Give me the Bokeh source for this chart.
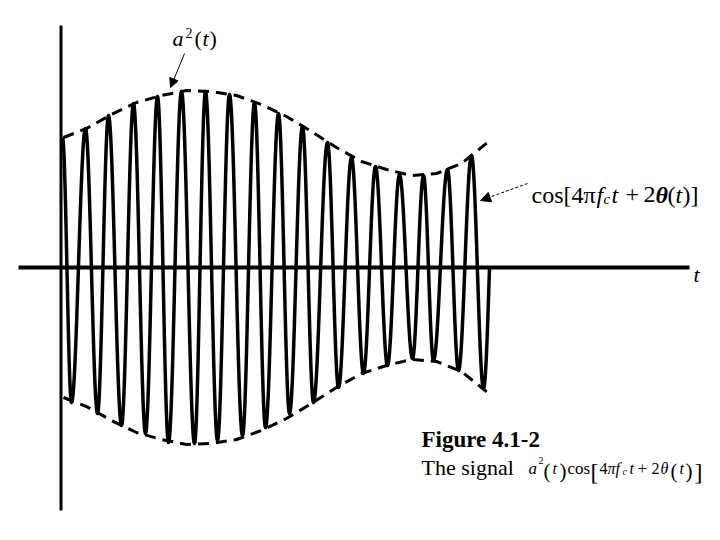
import numpy as np
from bokeh.plotting import figure
from bokeh.models import Range1d, Label, Arrow, NormalHead
from bokeh.embed import file_html
from bokeh.resources import INLINE

# ---------------- data (t and amplitude in drawing units) -------------
# carrier extrema of a^2(t) cos[4*pi*fc*t + 2*theta(t)]
peak_t = [1.5, 24.5, 47.5, 72.5, 96.5, 120.5, 144.5, 168.5, 193.5, 217.5, 241.5, 266.5,
          290.5, 314.5, 338.5, 362.5, 386.5, 410.5]
peak_a = [130, 139, 152, 164, 171, 176, 176, 173, 165, 154, 141, 125, 110, 101, 93, 92, 98, 112]
trough_t = [10.5, 36.5, 60.5, 84.5, 107.5, 133.5, 156.5, 181.5, 204.5, 228.5, 252.5, 277.5,
            302.5, 326.5, 351.5, 372.5, 397.5, 422.5]
trough_a = [-135, -146, -158, -166, -175, -176, -173, -168, -160, -146, -135, -120, -106, -98,
            -91, -93, -103, -121]
end_t, end_a = 428.5, 0

# envelope a^2(t) (dashed)
env_t = [2.5, 25.5, 50.5, 75.5, 100.5, 125.5, 150.5, 175.5, 200.5, 225.5, 250.5, 275.5,
         300.5, 325.5, 350.5, 375.5, 400.5, 426.5]
env_a = [130, 139, 153, 165, 172, 177, 176, 172, 163, 151, 136, 120, 106, 98, 92, 94, 104, 125]

# axes extents
t_axis = [-42.5, 628.5]
a_axis = [-243, 242]

# ---------------- build carrier curve through the read extrema ----------------
ext_t, ext_a = [], []
for i in range(len(peak_t)):
    ext_t += [peak_t[i], trough_t[i]]
    ext_a += [peak_a[i], trough_a[i]]
ext_t.append(end_t)
ext_a.append(end_a)

wave_t, wave_a = [], []
u = np.linspace(0, 1, 25)
for i in range(len(ext_t) - 1):
    t0, t1 = ext_t[i], ext_t[i + 1]
    v0, v1 = ext_a[i], ext_a[i + 1]
    if i == len(ext_t) - 2:
        seg = v0 * np.cos(np.pi / 2 * u)
    else:
        seg = (v0 + v1) / 2 + (v0 - v1) / 2 * np.cos(np.pi * u)
    wave_t += list(t0 + (t1 - t0) * u)
    wave_a += list(seg)

# ---------------- figure ----------------
W, H = 712, 532
X0 = -60.5
Y1 = 267
p = figure(width=W, height=H, output_backend="svg", toolbar_location=None,
           x_range=Range1d(X0, X0 + W), y_range=Range1d(Y1 - H, Y1),
           x_axis_type=None, y_axis_type=None, min_border=0)
p.min_border_left = p.min_border_right = p.min_border_top = p.min_border_bottom = 0
p.grid.visible = False
p.outline_line_color = None
p.background_fill_color = "white"

# axes
p.line(x=[0, 0], y=a_axis, line_color="black", line_width=3)
p.line(x=t_axis, y=[0, 0], line_color="black", line_width=4)

# envelope (dashed, top and bottom)
p.line(x=env_t, y=env_a, line_color="black", line_width=3, line_dash="11 7")
p.line(x=env_t, y=[-v for v in env_a], line_color="black", line_width=3, line_dash="11 7")

# carrier
p.line(x=wave_t, y=wave_a, line_color="black", line_width=3.5, line_join="round")

FONT = "Liberation Serif"


def px(X, Y):
    return X - 60.5, 267 - Y


def lab(X, Y, text, size, style="normal"):
    x, y = px(X, Y)
    p.add_layout(Label(x=x, y=y, text=text, text_font=FONT, text_font_size=f"{size}px",
                       text_font_style=style, text_baseline="alphabetic", text_align="left",
                       text_color="black"))


# a^2(t) label
lab(172, 38, "a", 22, "italic")
lab(185, 32, "2", 14)
lab(194, 38, "(", 22)
lab(202, 38, "t", 22, "italic")
lab(209, 38, ")", 22)

x0, y0 = px(184, 53)
x1, y1 = px(170, 87)
p.add_layout(Arrow(end=NormalHead(size=9, fill_color="black", line_color="black"),
                   x_start=x0, y_start=y0, x_end=x1, y_end=y1, line_width=1, line_color="black"))

# cos[...] label
lab(531, 194, "cos[4π", 24)
lab(596, 194, "f", 24, "italic")
lab(603, 198, "c", 15, "italic")
lab(611, 194, "t", 24, "italic")
lab(625, 194, "+", 24)
lab(643, 194, "2", 24)
lab(655, 194, "θ", 24, "bold italic")
lab(667, 194, "(", 24)
lab(675, 194, "t", 24, "italic")
lab(682, 194, ")]", 24)

x0, y0 = px(527, 183)
x1, y1 = px(480, 200)
p.add_layout(Arrow(end=NormalHead(size=10, fill_color="black", line_color="black"),
                   x_start=x0, y_start=y0, x_end=x1, y_end=y1, line_width=1,
                   line_color="black", line_dash="3 2"))

# t axis label
lab(693, 274, "t", 22, "italic")

# caption
lab(421, 439, "Figure 4.1-2", 23, "bold")
lab(421, 467, "The signal", 22)
lab(528, 468, "a", 17, "italic")
lab(538, 460, "2", 10)
lab(543, 470, "(", 21)
lab(552, 468, "t", 16, "italic")
lab(559, 470, ")", 21)
lab(567, 468, "cos", 17)
lab(590, 471, "[", 24)
lab(599, 468, "4", 16)
lab(607, 468, "π", 16, "italic")
lab(615, 468, "f", 16, "italic")
lab(622, 471, "c", 10, "italic")
lab(629, 468, "t", 16, "italic")
lab(637, 468, "+", 17)
lab(651, 468, "2", 16)
lab(660, 468, "θ", 16, "italic")
lab(670, 470, "(", 21)
lab(679, 468, "t", 16, "italic")
lab(685, 470, ")", 21)
lab(694, 471, "]", 24)

open("out.html", "w").write(file_html(p, INLINE))
